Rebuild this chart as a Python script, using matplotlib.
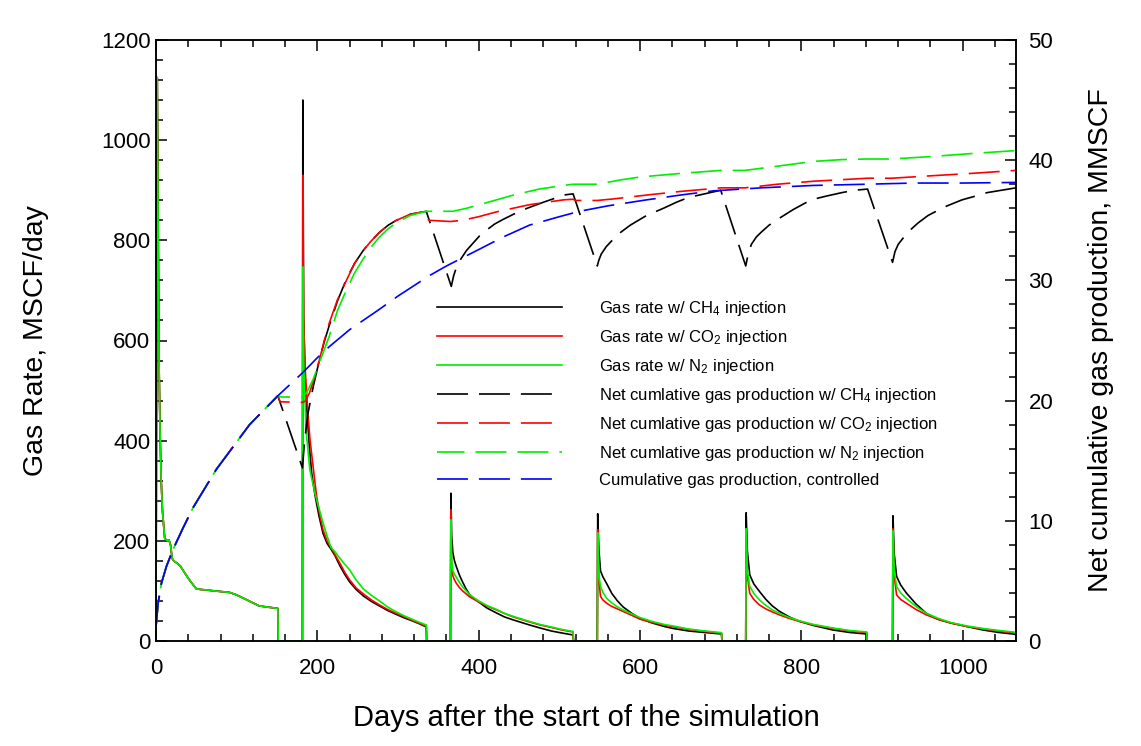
import matplotlib
matplotlib.use('Agg')
import matplotlib.pyplot as plt
from matplotlib.ticker import MultipleLocator

plt.rcParams['font.family'] = ['Liberation Sans', 'DejaVu Sans']
plt.rcParams['mathtext.fontset'] = 'custom'
plt.rcParams['mathtext.rm'] = 'Liberation Sans'
plt.rcParams['mathtext.it'] = 'Liberation Sans:italic'
plt.rcParams['lines.scale_dashes'] = False

# gas rate, MSCF/day -- first production period is shared by all cases
rate_early_days = [0, 1.5, 2.2, 3, 3.7, 5, 6.4, 8, 10.8, 14, 16, 18, 20, 22, 25.6,
                   30, 40, 50, 55, 91, 100, 128, 151, 151.5]
rate_early = [0, 1125, 950, 750, 563, 420, 322, 260, 205, 200, 202, 192, 165,
              160, 156, 150, 125, 104, 103, 97, 92, 70, 65, 0]

ch4_rate_days = rate_early_days + [
    181.5, 182, 183, 185, 187, 190, 193, 197, 202, 207, 212, 217.5, 222, 228, 234, 240,
    248, 257, 267, 277, 287, 298, 308, 318, 327, 335, 335.5,
    365, 365.5, 366.5, 368, 370, 372, 376, 380, 384, 389, 394, 400, 410, 422, 432, 443,
    453, 463, 476, 490, 503, 517, 517.5,
    547, 547.5, 549, 551, 554, 558.5, 565, 572, 579, 590, 600, 615, 630, 641, 660, 680,
    701, 701.5,
    731, 731.5, 733, 736, 741, 748, 756, 764, 773, 785, 798, 815, 839, 860, 881, 881.5,
    913, 913.5, 915, 918, 923, 930, 942, 955, 970, 985, 1005, 1025, 1045, 1062, 1066]
ch4_rate = rate_early + [
    0, 1080, 650, 510, 460, 390, 335, 292, 250, 215, 195, 182, 170, 150, 133, 118,
    103, 90, 79, 70, 61, 53, 46, 40, 34, 28, 0,
    0, 295, 210, 176, 160, 150, 132, 118, 105, 92, 85, 78, 66, 56, 48, 42,
    37, 32, 26, 20, 16, 12, 0,
    0, 254, 182, 140, 128, 115, 95, 80, 68, 55, 45, 36, 29, 25, 20, 17,
    14, 0,
    0, 256, 180, 132, 114, 99, 83, 70, 59, 48, 39, 31, 22, 17, 14, 0,
    0, 250, 175, 129, 112, 96, 74, 55, 43, 36, 29, 22, 17, 14, 13]

co2_rate_days = rate_early_days + [
    181.5, 182, 183, 185, 188.5, 191, 194.7, 199, 203, 207, 212, 217.5, 222, 228, 234,
    240, 248, 257, 267, 277, 287, 298, 308, 318, 327, 335, 335.5,
    365, 365.5, 366.5, 368, 370, 372, 376, 380, 389, 400, 410, 422, 432, 443, 453, 463,
    476, 490, 503, 517, 517.5,
    547, 547.5, 549, 551, 554, 558.5, 565, 572, 579, 590, 600, 615, 630, 641, 660, 680,
    701, 701.5,
    731, 731.5, 733, 736, 741, 748, 756, 764, 773, 785, 798, 815, 839, 860, 881, 881.5,
    913, 913.5, 915, 918, 923, 930, 942, 955, 970, 985, 1005, 1025, 1045, 1062, 1066]
co2_rate = rate_early + [
    0, 930, 640, 540, 449, 400, 349, 290, 252, 222, 200, 186, 172, 155, 137,
    122, 106, 94, 82, 72, 63, 55, 48, 41, 35, 29, 0,
    0, 262, 150, 130, 122, 116, 107, 100, 88, 78, 70, 62, 55, 48, 43, 38,
    32, 27, 22, 18, 0,
    0, 222, 120, 89, 82, 75.5, 69, 64, 59, 51, 43.5, 37, 31.5, 28.6, 23, 19,
    15.4, 0,
    0, 224, 130, 95, 83, 72, 64, 58, 52, 45, 39, 32, 25, 20, 16.7, 0,
    0, 224, 130, 92, 83, 75.5, 63, 52, 43, 36, 29, 24, 19.5, 16.7, 16]

n2_rate_days = rate_early_days + [
    181.5, 182, 183, 186, 190.6, 196.8, 202, 207, 212, 217, 222, 226, 233, 240, 248,
    257, 267, 277, 287, 298, 308, 318, 327, 335, 335.5,
    365, 365.5, 366.5, 368, 370, 372, 376, 380, 389, 400, 410, 422, 432, 443, 453, 463,
    476, 490, 503, 517, 517.5,
    547, 547.5, 549, 551, 554, 558.5, 565, 572, 579, 590, 600, 615, 630, 641, 660, 680,
    701, 701.5,
    731, 731.5, 733, 736, 741, 748, 756, 764, 773, 785, 798, 815, 839, 860, 881, 881.5,
    913, 913.5, 915, 918, 923, 930, 942, 955, 970, 985, 1005, 1025, 1045, 1062, 1066]
n2_rate = rate_early + [
    0, 747, 560, 420, 343, 296, 265, 236, 210, 186, 178, 169, 155, 142, 122,
    104, 91, 80, 68, 58, 50, 43, 37, 32, 0,
    0, 242, 160, 140, 133, 128, 117, 108, 92, 80, 71, 63, 55, 49, 44, 39,
    33, 28, 23, 19, 0,
    0, 216, 130, 109, 97, 85.5, 76, 68, 62, 54, 46.7, 39, 33, 30, 24, 20,
    16.7, 0,
    0, 224, 140, 109, 95, 82, 71, 62, 55, 47, 40, 33, 26, 21, 18, 0,
    0, 220, 140, 109, 96, 85, 69, 55, 45, 37, 30, 25, 21, 18, 17]

# cumulative gas production, MMSCF
ctrl_days = [0, 2.5, 6.7, 12.9, 21, 33.5, 46, 75, 116, 151, 181.5, 199, 215, 240, 277,
             300, 339, 360, 401, 430, 463, 500, 525, 560, 608, 650, 691, 750, 815,
             880, 939, 1000, 1066]
ctrl_cum = [1.2, 3.1, 4.8, 6.2, 7.6, 9.4, 11.1, 14.3, 18.0, 20.4, 22.3, 23.5, 24.5, 25.9,
            27.6, 28.7, 30.4, 31.2, 32.6, 33.6, 34.6, 35.3, 35.75, 36.2, 36.7, 37.1,
            37.45, 37.7, 37.9, 38.0, 38.1, 38.1, 38.15]
n_pre = 10  # points up to the first injection (day 151)

ch4_cum_days = ctrl_days[:n_pre] + [
    181.5, 184, 188, 195, 203, 209, 215, 225, 236, 246, 257, 267, 277, 288, 298, 315, 335,
    366, 369, 372, 378, 385, 393, 401, 410, 420, 431, 443, 460, 480, 493, 505, 517,
    547, 549, 552, 558, 565, 576, 588, 608, 629, 645, 660, 680, 700,
    731, 734, 738, 744, 750, 760, 771, 790, 812, 830, 850, 866, 882,
    913, 916, 920, 927, 935, 945, 957, 977, 999, 1015, 1030, 1048, 1066]
ch4_cum = ctrl_cum[:n_pre] + [
    14.4, 16.5, 18.8, 21.2, 23.5, 25.0, 26.3, 28.3, 30.1, 31.4, 32.5, 33.3, 34.0, 34.6,
    35.0, 35.5, 35.75,
    29.5, 30.4, 31.0, 31.8, 32.5, 33.1, 33.7, 34.2, 34.7, 35.1, 35.5, 36.0, 36.5, 36.8,
    37.1, 37.2,
    31.2, 31.7, 32.2, 32.8, 33.3, 34.0, 34.6, 35.4, 36.0, 36.5, 36.9, 37.2, 37.5,
    31.2, 32.2, 33.0, 33.6, 34.0, 34.6, 35.1, 35.9, 36.7, 37.0, 37.3, 37.5, 37.6,
    31.5, 32.4, 33.0, 33.6, 34.2, 34.8, 35.4, 36.1, 36.7, 37.0, 37.3, 37.5, 37.7]

co2_cum_days = ctrl_days[:n_pre] + [
    154, 181.5, 185, 190, 195, 203, 209, 215, 225, 236, 246, 257, 267, 277, 288, 298,
    315, 335,
    338, 365, 380, 400, 422, 463, 505, 517,
    520, 547, 570, 608, 650, 700, 730, 770, 815, 882, 912, 960, 1010, 1066]
co2_cum = ctrl_cum[:n_pre] + [
    19.9, 19.85, 19.95, 20.6, 21.6, 23.5, 25.1, 26.5, 28.4, 30.0, 31.4, 32.5, 33.3, 34.0,
    34.6, 35.0, 35.5, 35.75,
    35.0, 34.9, 35.0, 35.3, 35.7, 36.3, 36.7, 36.75,
    36.65, 36.65, 36.8, 37.1, 37.4, 37.7, 37.7, 38.0, 38.25, 38.5, 38.5, 38.7, 38.9, 39.15]

n2_cum_days = ctrl_days[:n_pre] + [
    155, 181.5, 186, 190, 195, 205, 215, 225, 236, 246, 257, 267, 277, 288, 298, 315, 335,
    368, 385, 401, 443, 475, 505, 517, 547, 575, 600, 650, 700, 730,
    770, 815, 850, 882, 912, 960, 1010, 1066]
n2_cum = ctrl_cum[:n_pre] + [
    20.3, 20.3, 20.6, 21.1, 21.8, 23.6, 25.4, 27.5, 29.2, 30.6, 31.8, 32.8, 33.6, 34.3,
    34.8, 35.4, 35.75,
    35.75, 36.0, 36.3, 37.1, 37.6, 37.9, 38.0, 38.0, 38.35, 38.6, 38.9, 39.15, 39.15,
    39.5, 39.9, 40.05, 40.1, 40.1, 40.3, 40.55, 40.8]

GREEN = '#00ee00'
DASH = (22.3, 7.9)

fig = plt.figure(figsize=(11.41, 7.46), dpi=100)
ax = fig.add_axes([156 / 1141, 1 - 641 / 746, 860 / 1141, 601 / 746])
ax2 = ax.twinx()

lw = 1.2
l1, = ax.plot(ch4_rate_days, ch4_rate, color='black', lw=lw,
              label='Gas rate w/ CH$_4$ injection')
l2, = ax.plot(co2_rate_days, co2_rate, color='red', lw=lw,
              label='Gas rate w/ CO$_2$ injection')
l3, = ax.plot(n2_rate_days, n2_rate, color=GREEN, lw=lw,
              label='Gas rate w/ N$_2$ injection')

l4, = ax2.plot(ch4_cum_days, ch4_cum, color='black', lw=lw, linestyle=(0, DASH),
               label='Net cumlative gas production w/ CH$_4$ injection')
l5, = ax2.plot(co2_cum_days, co2_cum, color='red', lw=lw, linestyle=(0, DASH),
               label='Net cumlative gas production w/ CO$_2$ injection')
l6, = ax2.plot(n2_cum_days, n2_cum, color=GREEN, lw=lw, linestyle=(2.5, DASH),
               label='Net cumlative gas production w/ N$_2$ injection')
l7, = ax2.plot(ctrl_days, ctrl_cum, color='blue', lw=lw, linestyle=(0, DASH),
               label='Cumulative gas production, controlled')

ax.set_xlim(0, 1066)
ax.set_ylim(0, 1200)
ax2.set_ylim(0, 50)

ax.xaxis.set_major_locator(MultipleLocator(200))
ax.xaxis.set_minor_locator(MultipleLocator(40))
ax.yaxis.set_major_locator(MultipleLocator(200))
ax.yaxis.set_minor_locator(MultipleLocator(40))
ax2.yaxis.set_major_locator(MultipleLocator(10))
ax2.yaxis.set_minor_locator(MultipleLocator(2))

ax.tick_params(which='both', direction='in', top=True, right=False, width=1.1,
               labelsize=16)
ax.tick_params(axis='x', pad=12)
ax.tick_params(axis='y', pad=4)
ax.tick_params(which='major', length=8)
ax.tick_params(which='minor', length=5)
ax2.tick_params(which='both', direction='in', width=1.1, labelsize=16, pad=9)
ax2.tick_params(which='major', length=8)
ax2.tick_params(which='minor', length=5)
for a in (ax, ax2):
    for s in a.spines.values():
        s.set_linewidth(1.1)

ax.set_xlabel('Days after the start of the simulation', fontsize=21, labelpad=18)
ax.set_ylabel('Gas Rate, MSCF/day', fontsize=20.5, labelpad=37)
ax2.set_ylabel('Net cumulative gas production, MMSCF', fontsize=20.5, labelpad=25)

handles = [l1, l2, l3, l4, l5, l6, l7]
ax2.legend(handles, [h.get_label() for h in handles], loc='upper left',
           bbox_to_anchor=(437 / 1141, 1 - 299 / 746), bbox_transform=fig.transFigure,
           frameon=False, fontsize=12, handlelength=7.5, handletextpad=2.2,
           labelspacing=0.6, borderpad=0, borderaxespad=0)

fig.savefig('out.png', dpi=100)
